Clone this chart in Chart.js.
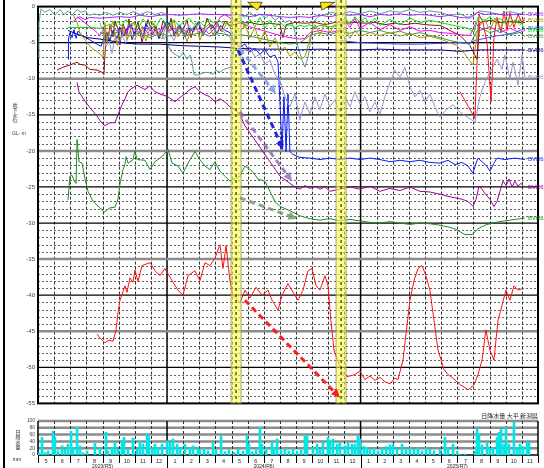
<!DOCTYPE html>
<html>
<head>
<meta charset="utf-8">
<script src="https://cdn.jsdelivr.net/npm/chart.js@4.4.1/dist/chart.umd.min.js"></script>
<style>
  body { margin: 0; background: #fff; width: 544px; height: 468px; position: relative; overflow: hidden; }
  #frame { position: absolute; left: 3px; top: 0; width: 2px; height: 468px; background: #000; }
  #main { position: absolute; left: 0; top: 0; }
  #rain { position: absolute; left: 0; top: 410px; }
</style>
</head>
<body>
<div id="frame"></div>
<canvas id="main" width="544" height="410"></canvas>
<canvas id="rain" width="544" height="58"></canvas>
<script>
// x values are months counted from 2023-05-01, y values are groundwater level GL- m
const monthLabels = ['5','6','7','8','9','10','11','12','1','2','3','4','5','6','7','8','9','10','11','12','1','2','3','4','5','6','7','8','9','10','11'];
const yearNames = ['2023(R5)', '2024(R6)', '2025(R7)'];
const yearStarts = [-4, 8, 20];
const highlightMonths = [12.28, 18.79];

const violet = [[2.11,-2.2],[2.36,-1.7],[2.60,-1.4],[2.91,-1.8],[3.22,-1.5],[3.84,-1.6],[4.46,-1.5],[5.08,-1.4],[5.70,-1.5],[6.32,-1.2],[6.94,-1.4],[7.56,-1.2],[8.18,-1.1],[8.80,-1.2],[9.42,-1.1],[10.04,-1.0],[10.66,-1.1],[11.28,-1.1],[11.90,-1.2],[12.52,-1.1],[13.14,-1.4],[13.76,-1.1],[14.38,-1.2],[15.00,-1.4],[15.62,-1.5],[16.24,-1.4],[16.86,-1.5],[17.48,-1.2],[18.10,-1.4],[18.72,-1.1],[19.34,-1.2],[19.96,-1.1],[20.58,-1.4],[21.20,-1.1],[21.82,-1.2],[22.44,-1.0],[23.06,-1.2],[23.68,-1.1],[24.30,-1.2],[24.92,-1.4],[25.54,-1.2],[26.16,-1.5],[26.78,-1.6],[27.28,-0.8],[27.71,-1.1],[28.33,-1.0],[28.95,-1.2],[29.57,-1.1],[30.19,-1.1]];

const teal = [[0,-7.0],[0.06,-2.2],[0.19,-0.3],[0.43,-0.8],[0.74,-0.4],[1.05,-1.2],[1.36,-0.4],[1.61,-1.1],[1.86,-0.6],[2.11,-1.2],[2.42,-0.4],[2.67,-0.8],[2.91,-0.6],[3.16,-1.2],[3.47,-1.0],[3.84,-1.2],[4.22,-0.8],[4.65,-1.2],[5.08,-0.8],[5.52,-1.1],[5.89,-0.7],[6.32,-1.1],[6.82,-0.7],[7.25,-1.1],[7.69,-0.8],[7.94,-1.1],[8.06,-5.4],[8.31,-6.3],[8.56,-6.7],[8.80,-7.0],[8.99,-6.3],[9.24,-7.3],[9.42,-6.7],[9.55,-7.7],[9.67,-9.4],[9.92,-9.5],[10.23,-9.2],[10.54,-9.1],[10.85,-9.4],[11.04,-8.8],[11.28,-9.1],[11.53,-8.7],[11.78,-8.5],[12.03,-8.4],[12.28,-2.2],[12.52,-1.1],[12.83,-1.5],[13.14,-0.8],[13.45,-1.4],[13.76,-1.0],[14.07,-1.6],[14.38,-1.1],[14.69,-1.9],[15.00,-1.4],[15.31,-2.2],[15.62,-1.9],[15.87,-2.9],[16.12,-5.6],[16.37,-7.4],[16.55,-8.4],[16.74,-7.0],[16.86,-5.4],[17.05,-2.2],[17.36,-1.4],[17.79,-1.1],[18.23,-0.8],[18.72,-1.1],[19.34,-0.7],[19.96,-1.0],[20.58,-0.6],[21.20,-1.0],[21.82,-0.6],[22.44,-0.8],[23.06,-0.4],[23.68,-0.8],[24.30,-0.6],[24.92,-0.8],[25.54,-1.2],[26.16,-1.0],[26.66,-1.5],[27.03,-1.1],[27.40,-0.6],[28.02,-0.8],[28.64,-1.1],[29.26,-0.7],[29.88,-1.0],[30.19,-0.8]];

const lime = [[1.86,-2.9],[2.60,-2.9],[3.22,-2.9],[3.84,-3.0],[4.15,-2.8],[4.46,-2.4],[4.71,-2.9],[4.96,-2.0],[5.15,-2.7],[5.46,-1.8],[5.70,-2.5],[5.95,-2.2],[6.26,-2.9],[6.51,-1.7],[6.76,-2.4],[7.07,-2.0],[7.32,-2.8],[7.62,-1.6],[7.94,-2.3],[8.18,-2.6],[8.43,-1.8],[8.74,-2.7],[9.05,-2.1],[9.36,-1.6],[9.67,-2.5],[9.98,-2.0],[10.29,-2.7],[10.60,-1.7],[10.91,-2.3],[11.22,-1.9],[11.53,-2.4],[11.90,-2.2],[12.21,-1.9],[12.52,-1.6],[12.83,-2.9],[13.14,-1.8],[13.45,-2.8],[13.76,-1.5],[14.07,-3.0],[14.38,-1.9],[14.69,-2.9],[15.00,-2.2],[15.31,-2.8],[15.62,-2.5],[15.93,-2.9],[16.24,-2.6],[16.55,-2.8],[16.86,-2.5],[17.17,-2.9],[17.48,-2.6],[18.10,-2.8],[18.72,-2.5],[19.03,-1.5],[19.34,-2.5],[19.65,-1.4],[19.96,-2.2],[20.27,-1.5],[20.58,-2.5],[20.89,-1.6],[21.20,-2.6],[21.82,-1.8],[22.44,-2.5],[23.06,-1.6],[23.68,-2.2],[24.30,-1.9],[24.92,-2.2],[25.54,-2.5],[26.16,-2.8],[26.66,-3.0],[27.03,-3.6],[27.28,-1.5],[27.71,-1.9],[28.02,-1.4],[28.33,-2.2],[28.64,-1.6],[28.95,-2.3],[29.26,-1.5],[29.57,-2.2],[29.88,-1.8],[30.19,-3.3]];

const magenta = [[2.42,-1.4],[2.73,-1.9],[3.04,-2.5],[3.35,-3.0],[3.66,-3.6],[3.84,-4.0],[4.09,-3.1],[4.34,-3.8],[4.59,-2.7],[4.90,-3.4],[5.15,-2.9],[5.46,-3.9],[5.70,-2.6],[6.01,-3.3],[6.32,-3.7],[6.57,-2.8],[6.88,-4.0],[7.19,-3.1],[7.50,-3.6],[7.81,-2.7],[8.12,-3.4],[8.43,-3.0],[8.74,-3.9],[9.05,-3.2],[9.36,-3.7],[9.67,-2.8],[9.98,-3.5],[10.29,-3.0],[10.60,-3.8],[10.97,-3.0],[11.28,-1.5],[11.59,-1.1],[11.90,-1.6],[12.52,-2.2],[13.14,-2.8],[13.76,-3.2],[14.38,-3.6],[15.00,-4.0],[15.62,-4.3],[16.24,-4.5],[16.55,-4.4],[16.86,-3.6],[17.48,-3.3],[18.10,-3.6],[18.72,-3.3],[19.03,-1.9],[19.34,-2.9],[19.65,-1.6],[19.96,-3.0],[20.58,-2.2],[21.20,-3.2],[21.82,-2.5],[22.44,-3.3],[23.06,-2.8],[23.68,-3.4],[24.30,-3.3],[24.92,-3.6],[25.54,-3.7],[26.16,-3.9],[26.78,-4.0],[27.16,-2.2],[27.40,-3.3],[28.02,-2.8],[28.64,-3.6],[29.26,-3.0],[29.88,-3.6],[30.19,-3.3]];

const olive = [[2.17,-1.1],[2.42,-2.2],[2.60,-3.6],[2.85,-4.4],[3.10,-5.2],[3.41,-5.9],[3.72,-6.3],[4.03,-7.0],[4.15,-2.2],[4.28,-4.9],[4.46,-3.2],[4.65,-2.0],[4.90,-5.3],[5.08,-3.6],[5.27,-2.6],[5.52,-4.6],[5.76,-3.0],[5.95,-2.2],[6.20,-4.0],[6.45,-2.7],[6.69,-4.8],[6.88,-3.4],[7.13,-2.3],[7.38,-3.8],[7.69,-4.5],[7.94,-2.6],[8.18,-3.3],[8.43,-1.9],[8.68,-4.2],[8.99,-3.0],[9.24,-4.9],[9.49,-3.2],[9.80,-2.5],[10.04,-4.6],[10.29,-3.1],[10.60,-2.4],[10.85,-4.0],[11.10,-2.6],[11.41,-3.5],[11.71,-2.3],[11.90,-2.9],[12.21,-2.5],[12.52,-3.6],[12.83,-2.5],[13.14,-4.3],[13.45,-2.9],[13.76,-5.0],[14.07,-3.3],[14.38,-5.6],[14.69,-4.3],[15.00,-6.3],[15.31,-5.6],[15.62,-6.9],[15.93,-6.3],[16.24,-7.2],[16.55,-7.0],[16.86,-4.3],[17.17,-2.5],[17.48,-3.9],[17.79,-2.2],[18.10,-3.6],[18.41,-2.5],[18.72,-4.1],[19.03,-2.9],[19.34,-4.4],[19.65,-3.3],[19.96,-4.1],[20.58,-3.6],[21.20,-4.0],[21.82,-3.6],[22.44,-4.1],[23.06,-3.7],[23.68,-4.3],[24.30,-4.1],[24.92,-4.5],[25.54,-5.0],[25.98,-5.4],[26.47,-6.6],[26.97,-8.1],[27.28,-2.9],[27.71,-1.9],[28.02,-3.3],[28.33,-1.6],[28.64,-3.0],[28.95,-1.9],[29.26,-2.8],[29.57,-1.8],[29.88,-2.5],[30.19,-1.9]];

const maroon = [[1.18,-8.8],[1.55,-8.4],[1.98,-8.1],[2.42,-7.7],[2.60,-8.0],[2.91,-8.1],[3.22,-8.7],[3.66,-8.8],[3.97,-9.1],[4.09,-9.4],[4.22,-3.6],[4.34,-5.0],[4.46,-2.6],[4.65,-4.2],[4.77,-2.0],[4.96,-3.1],[5.08,-5.3],[5.27,-2.4],[5.52,-3.8],[5.64,-1.7],[5.83,-4.6],[6.08,-3.0],[6.20,-2.1],[6.45,-4.9],[6.63,-3.4],[6.82,-1.8],[7.13,-3.9],[7.32,-2.7],[7.50,-4.4],[7.75,-2.0],[8.06,-3.2],[8.25,-1.6],[8.43,-4.1],[8.74,-2.5],[8.93,-3.6],[9.24,-1.9],[9.49,-4.3],[9.67,-2.9],[9.98,-2.2],[10.23,-3.7],[10.48,-1.6],[10.79,-3.0],[11.10,-2.1],[11.34,-3.4],[11.59,-2.0],[11.90,-2.6],[12.52,-2.3],[13.14,-2.2],[13.76,-2.5],[14.38,-2.3],[15.00,-2.5],[15.19,-4.3],[15.38,-2.5],[15.93,-2.2],[16.55,-2.3],[17.17,-2.2],[17.79,-2.5],[18.41,-2.2],[19.03,-2.3],[19.65,-2.2],[20.27,-2.3],[20.89,-2.2],[21.51,-2.5],[22.13,-2.3],[22.75,-2.5],[23.37,-2.3],[23.99,-2.5],[24.61,-2.6],[24.92,-2.6],[25.54,-3.3],[26.16,-4.0],[26.78,-5.4],[27.22,-7.3],[27.40,-2.2],[28.02,-1.9],[28.64,-2.2],[29.26,-2.1],[29.88,-2.2],[30.19,-2.2]];

const dkgreen = [[3.84,-3.6],[4.46,-4.0],[5.08,-3.4],[5.70,-4.1],[6.32,-3.6],[6.94,-4.3],[7.56,-3.7],[8.18,-4.1],[8.80,-3.4],[9.42,-4.0],[10.04,-3.6],[10.66,-4.1],[11.28,-3.7],[11.90,-4.0],[12.52,-3.9],[13.14,-4.1],[13.76,-4.4],[14.38,-4.7],[15.00,-5.0],[15.62,-5.2],[16.24,-5.0],[16.86,-4.0],[17.48,-3.6],[18.10,-3.9],[18.72,-3.4],[19.34,-3.7],[19.96,-3.3],[20.58,-3.6],[21.20,-3.3],[21.82,-3.7],[22.44,-3.4],[23.06,-3.9],[23.68,-3.6],[24.30,-4.0],[24.92,-4.3],[25.54,-4.7],[26.16,-5.0],[26.78,-5.2],[27.16,-3.6],[27.40,-2.9],[28.02,-3.6],[28.64,-3.2],[29.26,-3.9],[29.88,-3.6],[30.19,-4.1]];

const blue2 = [[18.72,-4.7],[19.96,-5.0],[21.20,-5.1],[22.44,-5.2],[23.68,-5.2],[24.92,-5.1],[25.85,-5.0],[26.78,-5.0],[27.09,-4.7],[27.71,-4.4],[28.33,-4.1],[28.95,-3.9],[29.57,-3.6],[30.19,-3.0]];

const navy = [[1.86,-3.3],[2.29,-3.7],[3.04,-4.3],[3.84,-4.5],[4.65,-4.8],[5.52,-5.1],[6.32,-5.2],[7.56,-5.2],[8.80,-5.4],[10.04,-5.5],[11.28,-5.6],[12.52,-5.8],[13.76,-5.9],[15.00,-5.9],[16.24,-6.0],[17.48,-5.9],[18.72,-6.0],[19.96,-6.0],[21.20,-5.9],[22.44,-6.0],[23.68,-6.0],[24.92,-6.0],[26.16,-6.2],[27.40,-6.0],[28.64,-6.0],[30.19,-6.0]];

const lavender = [[3.84,-2.2],[4.03,-3.6],[4.22,-5.6],[4.40,-4.7],[4.59,-6.5],[4.77,-4.3],[4.96,-5.4],[5.21,-4.0],[5.46,-5.1],[5.70,-3.5],[6.01,-4.6],[6.26,-3.3],[6.57,-4.2],[6.88,-2.8],[7.19,-3.9],[7.50,-3.1],[7.81,-4.5],[8.12,-3.4],[8.43,-4.7],[8.74,-3.0],[9.05,-4.0],[9.36,-2.6],[9.67,-3.5],[9.98,-2.3],[10.29,-3.6],[10.60,-2.7],[10.91,-3.9],[11.22,-3.0],[11.53,-3.5],[11.90,-4.3],[12.21,-5.2],[12.52,-5.0],[12.83,-6.1],[13.14,-5.6],[13.45,-7.0],[13.76,-6.6],[14.07,-8.0],[14.38,-7.4],[14.69,-9.4],[15.00,-10.2],[15.31,-12.5],[15.62,-13.9],[15.93,-12.1],[16.24,-15.7],[16.55,-13.2],[16.86,-14.9],[17.17,-12.5],[17.48,-14.3],[17.79,-12.1],[18.10,-13.9],[18.41,-12.9],[18.72,-14.6],[19.03,-12.5],[19.34,-13.9],[19.65,-11.8],[19.96,-13.5],[20.27,-12.5],[20.58,-14.6],[20.89,-13.2],[21.20,-14.9],[21.51,-12.5],[21.82,-10.5],[22.13,-8.8],[22.44,-9.8],[22.75,-8.4],[23.06,-11.1],[23.37,-12.5],[23.68,-11.6],[23.99,-13.2],[24.30,-12.1],[24.61,-13.9],[24.92,-15.3],[25.36,-14.2],[25.73,-13.6],[26.16,-14.6],[26.60,-15.3],[27.09,-16.0],[27.40,-12.5],[27.71,-10.5],[28.02,-9.1],[28.46,-7.3],[28.77,-8.7],[28.95,-6.7],[29.26,-10.0],[29.45,-7.7],[29.76,-10.9],[30.01,-6.7],[30.19,-9.8]];

const blue = [[1.86,-7.3],[1.89,-4.5],[1.98,-3.6],[2.11,-4.3],[2.23,-3.2],[2.36,-4.4],[2.48,-3.4],[2.73,-4.0],[2.98,-4.3],[3.35,-4.8],[3.66,-5.2],[3.91,-5.5],[4.09,-4.4],[4.28,-3.6],[4.46,-4.7],[4.65,-3.3],[4.90,-4.4],[5.08,-2.9],[5.33,-4.1],[5.52,-3.1],[5.76,-2.4],[5.95,-3.8],[6.26,-2.9],[6.51,-4.2],[6.69,-2.3],[6.94,-3.4],[7.19,-2.7],[7.50,-4.4],[7.75,-3.2],[8.00,-2.0],[8.31,-3.1],[8.56,-3.8],[8.80,-2.6],[9.11,-4.2],[9.36,-3.0],[9.61,-3.5],[9.92,-2.2],[10.23,-3.9],[10.48,-3.1],[10.79,-2.5],[11.10,-3.7],[11.34,-2.6],[11.59,-3.3],[11.90,-3.6],[12.21,-5.0],[12.52,-5.6],[12.83,-5.2],[13.14,-6.3],[13.45,-5.8],[13.76,-6.6],[14.07,-6.0],[14.38,-7.0],[14.69,-6.7],[14.88,-7.7],[15.00,-13.2],[15.13,-19.8],[15.25,-12.5],[15.38,-20.1],[15.50,-12.1],[15.62,-20.1],[15.81,-20.5],[16.24,-20.9],[16.86,-21.0],[17.48,-21.2],[18.10,-21.0],[18.72,-21.2],[19.34,-21.0],[19.96,-21.2],[20.58,-21.0],[21.20,-21.2],[21.82,-21.5],[22.44,-21.3],[23.06,-21.5],[23.68,-21.3],[24.30,-21.6],[24.92,-21.7],[25.42,-21.3],[25.85,-21.9],[26.29,-21.6],[26.66,-22.1],[26.97,-23.1],[27.16,-21.7],[27.28,-21.0],[27.53,-21.5],[27.78,-22.0],[28.02,-22.8],[28.27,-21.7],[28.46,-21.0],[28.95,-21.2],[29.57,-21.0],[30.19,-21.2]];

const purple = [[2.42,-10.5],[2.54,-11.8],[2.85,-12.9],[3.22,-14.0],[3.60,-15.0],[3.91,-16.0],[4.15,-16.5],[4.46,-16.1],[4.77,-16.1],[4.96,-15.0],[5.21,-13.6],[5.39,-12.8],[5.58,-11.8],[5.83,-11.3],[6.14,-10.9],[6.63,-11.5],[6.94,-11.0],[7.25,-11.8],[7.56,-12.1],[8.06,-12.5],[8.49,-13.2],[8.80,-12.6],[9.11,-12.1],[9.42,-11.5],[9.73,-11.1],[10.04,-11.8],[10.35,-12.2],[10.66,-12.5],[10.97,-13.2],[11.28,-12.8],[11.59,-13.2],[11.90,-13.9],[12.21,-14.3],[12.52,-15.0],[12.83,-16.5],[13.14,-17.5],[13.45,-18.5],[13.76,-19.5],[14.07,-20.5],[14.38,-21.5],[14.69,-22.5],[15.00,-23.5],[15.62,-24.5],[15.93,-25.0],[16.24,-25.3],[16.55,-24.8],[16.86,-25.2],[17.17,-24.9],[17.48,-25.3],[17.79,-25.0],[18.10,-25.6],[18.72,-25.3],[19.34,-25.0],[19.96,-25.3],[20.58,-24.9],[21.20,-25.6],[21.82,-25.2],[22.44,-25.5],[23.06,-25.0],[23.68,-25.6],[24.30,-25.7],[24.92,-26.0],[25.42,-26.3],[25.85,-26.5],[26.29,-26.7],[26.66,-27.0],[26.97,-27.7],[27.16,-26.7],[27.34,-24.9],[27.53,-25.3],[27.71,-25.9],[28.02,-26.7],[28.27,-27.7],[28.46,-27.0],[28.64,-25.6],[28.83,-24.2],[29.02,-24.8],[29.20,-23.9],[29.39,-25.0],[29.57,-24.2],[29.76,-24.9],[29.95,-24.5],[30.13,-25.0]];

const green = [[1.86,-26.8],[1.98,-23.5],[2.11,-23.4],[2.23,-24.1],[2.36,-24.5],[2.42,-18.4],[2.54,-21.5],[2.73,-21.7],[2.91,-23.8],[3.10,-25.6],[3.41,-27.0],[3.84,-27.9],[4.09,-28.5],[4.46,-27.9],[4.77,-27.8],[4.96,-26.7],[5.08,-24.6],[5.27,-22.6],[5.39,-21.9],[5.46,-20.8],[5.58,-21.7],[5.89,-21.2],[6.01,-20.0],[6.14,-21.2],[6.63,-21.3],[6.94,-22.6],[7.25,-21.5],[7.69,-20.8],[8.06,-19.8],[8.31,-21.7],[8.68,-22.1],[8.99,-23.1],[9.30,-21.7],[9.73,-20.1],[10.04,-21.2],[10.35,-22.1],[10.66,-22.6],[10.97,-21.5],[11.28,-22.8],[11.59,-23.5],[11.90,-24.2],[12.52,-23.5],[12.83,-22.1],[13.27,-22.8],[13.64,-23.9],[14.07,-24.2],[14.38,-25.6],[14.69,-27.0],[15.00,-27.7],[15.62,-28.3],[16.24,-29.0],[16.86,-29.4],[17.48,-29.6],[18.10,-29.4],[18.72,-29.7],[19.34,-29.5],[19.96,-29.7],[20.58,-29.9],[21.20,-30.0],[21.82,-29.8],[22.44,-30.0],[23.06,-30.2],[23.68,-30.0],[24.30,-30.1],[24.92,-30.3],[25.54,-30.6],[25.85,-30.8],[26.47,-31.6],[26.91,-31.6],[27.28,-30.8],[27.71,-30.3],[28.15,-30.0],[28.64,-29.8],[29.26,-29.6],[29.88,-29.4],[30.19,-29.3]];

const red = [[3.66,-45.4],[3.84,-45.9],[4.15,-46.6],[4.40,-46.2],[4.65,-46.4],[4.84,-44.8],[4.96,-42.4],[5.08,-40.7],[5.21,-39.9],[5.39,-38.7],[5.52,-39.6],[5.70,-37.6],[5.89,-38.2],[6.01,-36.5],[6.20,-38.1],[6.45,-35.9],[6.94,-35.5],[7.25,-36.6],[7.56,-37.3],[7.87,-36.3],[8.31,-38.0],[8.68,-39.3],[8.99,-40.0],[9.30,-37.3],[9.73,-36.6],[10.04,-38.0],[10.35,-35.5],[10.66,-35.9],[10.97,-34.9],[11.28,-33.0],[11.47,-36.3],[11.66,-33.1],[11.90,-38.0],[12.09,-40.0],[12.52,-41.1],[12.83,-39.3],[13.14,-40.4],[13.52,-38.9],[13.89,-40.0],[14.26,-39.3],[14.51,-40.7],[14.88,-42.1],[15.13,-40.0],[15.50,-38.4],[15.81,-39.6],[16.12,-40.7],[16.43,-39.3],[16.74,-36.6],[16.99,-36.3],[17.24,-38.7],[17.48,-39.3],[17.79,-37.3],[17.98,-38.7],[18.16,-43.5],[18.35,-47.6],[18.60,-49.2],[18.85,-50.6],[19.16,-51.3],[19.65,-51.0],[19.96,-50.5],[20.27,-51.7],[20.58,-51.2],[20.89,-51.8],[21.20,-51.4],[21.51,-52.0],[21.82,-52.3],[22.13,-51.5],[22.32,-51.7],[22.63,-49.0],[22.81,-45.5],[23.06,-40.7],[23.31,-38.0],[23.56,-36.3],[23.81,-35.9],[24.05,-37.3],[24.30,-39.3],[24.55,-43.5],[24.80,-47.6],[25.17,-50.3],[25.42,-51.0],[25.67,-51.4],[25.98,-52.0],[26.16,-52.4],[26.47,-52.8],[26.66,-53.1],[26.91,-52.7],[27.03,-52.4],[27.28,-51.0],[27.53,-49.0],[27.77,-44.8],[28.02,-47.6],[28.27,-49.0],[28.52,-43.5],[28.77,-41.4],[29.01,-39.3],[29.26,-40.7],[29.51,-38.7],[29.76,-39.3],[30.01,-39.1]];

const red2 = [[26.16,-11.8],[26.97,-15.0],[27.09,-15.5],[27.22,-7.7],[27.34,-1.1],[27.59,-2.2],[27.84,-5.0],[28.09,-13.2],[28.27,-4.3],[28.46,-1.5],[28.71,-3.6],[28.89,-0.6],[29.08,-3.3],[29.26,-0.8],[29.51,-2.9],[29.76,-1.1],[30.01,-2.2],[30.19,-1.5]];

// daily rainfall peaks, mm
const rain = [[0.06,7],[0.25,52],[0.43,7],[0.62,12],[0.93,70],[1.05,52],[1.24,12],[1.49,27],[1.67,17],[1.86,32],[2.05,70],[2.17,22],[2.42,82],[2.60,27],[2.79,7],[3.04,12],[3.53,34],[3.84,22],[4.22,67],[4.34,12],[4.59,22],[4.77,37],[4.96,17],[5.21,42],[5.33,52],[5.58,17],[5.89,50],[6.14,17],[6.32,42],[6.51,32],[6.76,62],[6.86,54],[7.07,22],[7.25,32],[7.44,22],[7.69,32],[8.00,42],[8.18,37],[8.37,47],[8.62,32],[8.80,22],[9.11,32],[9.42,22],[9.61,27],[9.92,22],[10.04,15],[10.29,20],[10.54,12],[10.85,37],[11.04,15],[11.35,57],[11.59,10],[11.84,15],[12.15,8],[12.40,18],[12.71,12],[12.96,57],[13.08,32],[13.27,10],[13.52,15],[13.76,82],[13.89,32],[14.14,22],[14.51,37],[14.63,22],[14.82,47],[15.07,15],[15.31,20],[15.56,12],[15.81,18],[16.06,10],[16.31,15],[16.55,57],[16.68,57],[17.05,22],[17.30,32],[17.48,15],[17.67,37],[17.98,52],[18.10,42],[18.29,47],[18.54,32],[18.72,37],[19.03,27],[19.22,37],[19.47,32],[19.65,32],[19.84,57],[19.96,47],[20.21,25],[20.40,22],[20.58,15],[20.83,20],[21.08,12],[21.33,22],[21.58,25],[21.82,30],[22.01,32],[22.26,18],[22.57,32],[22.82,15],[23.06,22],[23.31,17],[23.56,22],[23.81,12],[24.06,22],[24.30,17],[24.55,12],[24.92,17],[25.23,52],[25.42,22],[25.73,32],[25.98,10],[26.16,3],[26.47,3],[27.09,12],[27.22,77],[27.34,62],[27.53,30],[27.84,37],[28.02,20],[28.21,22],[28.46,52],[28.58,67],[28.71,77],[28.89,32],[29.02,82],[29.20,32],[29.51,97],[29.70,22],[29.88,32],[30.07,25],[30.32,37],[30.44,37]];

// annotation arrows (start / end in months, GL- m)
const arrowFrom = [[12.40,-6.0],[12.52,-5.9],[12.52,-14.6],[12.52,-26.5],[12.83,-40.7]];
const arrowTo = [[15.20,-19.8],[14.76,-12.1],[15.75,-24.2],[16.06,-29.4],[18.72,-54.2]];
const calloutTips = [[13.0, 0.6, 13.9, 0.6, 13.6, -0.5], [17.5, 0.6, 18.4, 0.6, 17.6, -0.5]];

const FONT = '"Liberation Sans", Arial, sans-serif';
const JFONT = '"Noto Sans CJK JP", sans-serif';
const grayLevels = [-10, -20, -35, -45];

const pts = a => a.map(p => ({ x: p[0], y: p[1] }));
const lineSet = (data, color, label) => ({
  label: label || '', tag: !!label, data: pts(data), borderColor: color,
  borderWidth: 1, pointRadius: 0, tension: 0, fill: false
});

function vline(ctx, px, y0, y1) { ctx.beginPath(); ctx.moveTo(px, y0); ctx.lineTo(px, y1); ctx.stroke(); }
function hline(ctx, py, x0, x1) { ctx.beginPath(); ctx.moveTo(x0, py); ctx.lineTo(x1, py); ctx.stroke(); }

function monthGrid(ctx, a, x) {
  ctx.lineWidth = 1;
  ctx.strokeStyle = '#333';
  ctx.setLineDash([3, 2]);
  for (let m = 1; m < 31; m++) {
    if (yearStarts.includes(m)) continue;
    vline(ctx, Math.round(x.getPixelForValue(m)) + 0.5, a.top, a.bottom);
  }
  ctx.setLineDash([]);
  ctx.strokeStyle = '#000';
  ctx.lineWidth = 1.5;
  yearStarts.forEach(m => { if (m > 0) vline(ctx, x.getPixelForValue(m), a.top, a.bottom); });
}

const mainGrid = {
  id: 'mainGrid',
  beforeDatasetsDraw(chart) {
    const { ctx, chartArea: a, scales: { x, y } } = chart;
    ctx.save();
    ctx.strokeStyle = '#666';
    ctx.lineWidth = 1;
    ctx.setLineDash([2, 2]);
    for (let v = -1; v > -55; v--) {
      if (v % 5 === 0) continue;
      hline(ctx, Math.round(y.getPixelForValue(v)) + 0.5, a.left, a.right);
    }
    monthGrid(ctx, a, x);
    for (let v = -5; v > -55; v -= 5) {
      const g = grayLevels.includes(v);
      ctx.strokeStyle = g ? '#8c8c8c' : '#000';
      ctx.lineWidth = g ? 2.5 : 1.2;
      hline(ctx, y.getPixelForValue(v), a.left, a.right);
    }
    ctx.strokeStyle = '#000';
    ctx.lineWidth = 2;
    ctx.strokeRect(a.left, a.top, a.width, a.height);

    // axis title
    ctx.fillStyle = '#333';
    ctx.font = '5px ' + JFONT;
    ctx.textAlign = 'center';
    ctx.textBaseline = 'middle';
    ['地', '下', '水', '位'].forEach((c, i) => ctx.fillText(c, 15, 105 + i * 5));
    ctx.font = '5px ' + FONT;
    ctx.fillText('GL- m', 19, 134);
    ctx.restore();
  }
};

function arrow(ctx, x0, y0, x1, y1, color, w, dash) {
  const ang = Math.atan2(y1 - y0, x1 - x0);
  const hl = w * 3.2;
  ctx.save();
  ctx.strokeStyle = color;
  ctx.fillStyle = color;
  ctx.lineWidth = w;
  ctx.setLineDash(dash);
  ctx.beginPath();
  ctx.moveTo(x0, y0);
  ctx.lineTo(x1 - hl * 0.8 * Math.cos(ang), y1 - hl * 0.8 * Math.sin(ang));
  ctx.stroke();
  ctx.setLineDash([]);
  ctx.beginPath();
  ctx.moveTo(x1, y1);
  ctx.lineTo(x1 - hl * Math.cos(ang - 0.45), y1 - hl * Math.sin(ang - 0.45));
  ctx.lineTo(x1 - hl * Math.cos(ang + 0.45), y1 - hl * Math.sin(ang + 0.45));
  ctx.closePath();
  ctx.fill();
  ctx.restore();
}

const notes = {
  id: 'notes',
  afterDatasetsDraw(chart) {
    const { ctx, chartArea: a, scales: { x, y } } = chart;
    ctx.save();
    // highlighted periods
    highlightMonths.forEach(m => {
      const px = x.getPixelForValue(m);
      ctx.fillStyle = 'rgba(255,255,70,0.6)';
      ctx.fillRect(px - 5, 0, 10, a.bottom);
      ctx.strokeStyle = 'rgba(140,140,90,0.8)';
      ctx.lineWidth = 1;
      vline(ctx, px - 5, 0, a.bottom);
      vline(ctx, px + 5, 0, a.bottom);
      ctx.strokeStyle = '#000';
      ctx.setLineDash([3, 3]);
      vline(ctx, px, 0, a.bottom);
      ctx.setLineDash([]);
    });
    calloutTips.forEach(t => {
      ctx.beginPath();
      ctx.moveTo(x.getPixelForValue(t[0]), y.getPixelForValue(t[1]));
      ctx.lineTo(x.getPixelForValue(t[2]), y.getPixelForValue(t[3]));
      ctx.lineTo(x.getPixelForValue(t[4]), y.getPixelForValue(t[5]));
      ctx.closePath();
      ctx.fillStyle = '#ffe800';
      ctx.fill();
      ctx.strokeStyle = '#333';
      ctx.lineWidth = 0.8;
      ctx.stroke();
    });
    const colors = ['rgba(20,30,230,0.95)', 'rgba(120,150,240,0.85)', 'rgba(140,100,180,0.8)', 'rgba(120,150,120,0.85)', 'rgba(255,20,20,0.95)'];
    arrowFrom.forEach((p, i) => {
      arrow(ctx, x.getPixelForValue(p[0]), y.getPixelForValue(p[1]),
        x.getPixelForValue(arrowTo[i][0]), y.getPixelForValue(arrowTo[i][1]),
        colors[i], 3, [6, 4]);
    });
    // series names at the right end
    ctx.font = '6px ' + FONT;
    ctx.textAlign = 'left';
    ctx.textBaseline = 'middle';
    chart.data.datasets.forEach(ds => {
      if (!ds.tag) return;
      const last = ds.data[ds.data.length - 1];
      ctx.fillStyle = ds.borderColor;
      ctx.fillText(ds.label, 528, y.getPixelForValue(last.y));
    });
    ctx.restore();
  }
};

new Chart(document.getElementById('main'), {
  type: 'line',
  data: {
    datasets: [
      lineSet(violet, '#9a2cff', 'BVR6-1'),
      lineSet(olive, '#a49a00', 'BVR6-2'),
      lineSet(blue2, '#3a4cff', 'BVR6-3'),
      lineSet(lime, '#00e400', 'BVR6-4'),
      lineSet(dkgreen, '#3c9a3c', 'BVR6-5'),
      lineSet(navy, '#00007f', 'BVR6-6'),
      lineSet(lavender, '#9696d2', 'BVR6-7'),
      lineSet(blue, '#0a18ff', 'BVR6-8'),
      lineSet(purple, '#990099', 'BVR6-9'),
      lineSet(green, '#1e8c1e', 'BVR6-10'),
      lineSet(magenta, '#ff00ff'),
      lineSet(maroon, '#8b1010'),
      lineSet(teal, '#5a9c9c'),
      lineSet(red2, '#ff1010'),
      lineSet(red, '#ff1010')
    ]
  },
  options: {
    responsive: false,
    animation: false,
    devicePixelRatio: 1,
    layout: { padding: { top: 4, right: 6, bottom: 6, left: 0 } },
    plugins: { legend: { display: false }, tooltip: { enabled: false } },
    scales: {
      x: { type: 'linear', min: 0, max: 31, display: false },
      y: {
        min: -55, max: 0,
        afterFit: s => { s.width = 38; },
        grid: { display: false, drawTicks: false },
        border: { display: false },
        ticks: { stepSize: 5, autoSkip: false, font: { size: 6, family: FONT }, color: '#444', padding: 3 }
      }
    }
  },
  plugins: [mainGrid, notes]
});

const rainGrid = {
  id: 'rainGrid',
  beforeDatasetsDraw(chart) {
    const { ctx, chartArea: a, scales: { x, y } } = chart;
    ctx.save();
    ctx.strokeStyle = '#8c8c8c';
    ctx.lineWidth = 2.5;
    for (let v = 20; v <= 100; v += 20) hline(ctx, y.getPixelForValue(v), a.left, a.right);
    monthGrid(ctx, a, x);
    ctx.strokeStyle = '#000';
    ctx.lineWidth = 1.5;
    vline(ctx, a.left, a.top, a.bottom);
    vline(ctx, a.right, a.top, a.bottom);
    hline(ctx, a.bottom, a.left, a.right);
    ctx.restore();
  },
  afterDraw(chart) {
    const { ctx, chartArea: a, scales: { x } } = chart;
    ctx.save();
    ctx.strokeStyle = '#000';
    ctx.lineWidth = 1;
    for (let m = 0; m <= 31; m++) {
      const px = Math.round(x.getPixelForValue(m)) + 0.5;
      vline(ctx, px, a.bottom, a.bottom + (yearStarts.includes(m) ? 13 : 8));
    }
    ctx.fillStyle = '#222';
    ctx.font = '5.5px ' + FONT;
    ctx.textAlign = 'center';
    ctx.textBaseline = 'middle';
    monthLabels.forEach((t, i) => ctx.fillText(t, x.getPixelForValue(i + 0.5), a.bottom + 6.5));
    ctx.font = '5px ' + FONT;
    yearNames.forEach((t, i) => {
      const c = (Math.max(yearStarts[i], 0) + yearStarts[i] + 12) / 2;
      ctx.fillText(t, x.getPixelForValue(c), a.bottom + 11.5);
    });
    ctx.font = '5px ' + JFONT;
    ['日', '降', '水', '量'].forEach((c, i) => ctx.fillText(c, 18, 22 + i * 5));
    ctx.font = '5px ' + FONT;
    ctx.fillText('mm', 17, 50);
    ctx.font = '6px ' + JFONT;
    ctx.textAlign = 'right';
    ctx.fillText('日降水量 大平 新潟県', a.right, 6);
    ctx.restore();
  }
};

new Chart(document.getElementById('rain'), {
  type: 'bar',
  data: {
    datasets: [{ data: pts(rain), backgroundColor: '#00e6e6', borderWidth: 0, barThickness: 2 }]
  },
  options: {
    responsive: false,
    animation: false,
    devicePixelRatio: 1,
    layout: { padding: { top: 11, right: 6, bottom: 13, left: 0 } },
    plugins: { legend: { display: false }, tooltip: { enabled: false } },
    scales: {
      x: { type: 'linear', min: 0, max: 31, offset: false, display: false },
      y: {
        min: 0, max: 100,
        afterFit: s => { s.width = 38; },
        grid: { display: false, drawTicks: false },
        border: { display: false },
        ticks: { stepSize: 20, autoSkip: false, font: { size: 5, family: FONT }, color: '#444', padding: 3 }
      }
    }
  },
  plugins: [rainGrid]
});
</script>
</body>
</html>
